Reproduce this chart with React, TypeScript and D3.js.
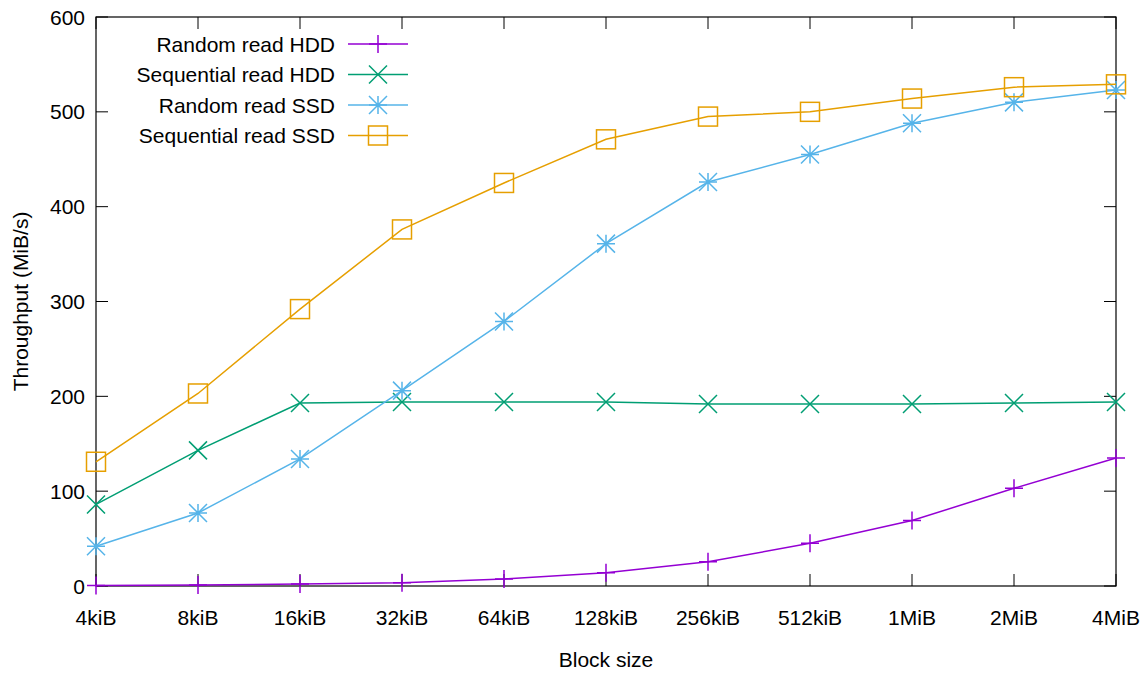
import * as d3 from "d3";

const blockSizes = ["4kiB", "8kiB", "16kiB", "32kiB", "64kiB", "128kiB", "256kiB", "512kiB", "1MiB", "2MiB", "4MiB"];
const yTicks = [0, 100, 200, 300, 400, 500, 600];

const randomHdd = [0.5, 1, 2, 3.5, 7.5, 14, 25.5, 45, 69, 103, 135];
const seqHdd = [86, 143, 193, 194, 194, 194, 192, 192, 192, 193, 194];
const randomSsd = [42, 77, 134, 206, 279, 361, 426, 455, 488, 510, 523];
const seqSsd = [131, 203, 292, 376, 425, 471, 495, 500, 514, 526, 529];

const seriesList = [
  { name: "Random read HDD", values: randomHdd, color: "#9400d3", marker: "plus" },
  { name: "Sequential read HDD", values: seqHdd, color: "#009e73", marker: "cross" },
  { name: "Random read SSD", values: randomSsd, color: "#56b4e9", marker: "star" },
  { name: "Sequential read SSD", values: seqSsd, color: "#e69f00", marker: "square" },
];

const W = 1147;
const H = 677;
const margin = { top: 17, right: 31, bottom: 91, left: 96 };
const font = "'Liberation Sans', Arial, sans-serif";
const fs = 21;

function Marker({ kind, x, y, color }: { kind: string; x: number; y: number; color: string }) {
  const s = 9;
  const sw = 1.5;
  if (kind === "plus") {
    return <path d={`M${x - s},${y}H${x + s}M${x},${y - s}V${y + s}`} stroke={color} strokeWidth={sw} fill="none" />;
  }
  if (kind === "cross") {
    return <path d={`M${x - s},${y - s}L${x + s},${y + s}M${x - s},${y + s}L${x + s},${y - s}`} stroke={color} strokeWidth={sw} fill="none" />;
  }
  if (kind === "star") {
    return (
      <path
        d={`M${x - s},${y}H${x + s}M${x},${y - s}V${y + s}M${x - s},${y - s}L${x + s},${y + s}M${x - s},${y + s}L${x + s},${y - s}`}
        stroke={color}
        strokeWidth={sw}
        fill="none"
      />
    );
  }
  return <rect x={x - 9.5} y={y - 9.5} width={19} height={19} stroke={color} strokeWidth={sw} fill="none" />;
}

export default function App() {
  const x = d3
    .scalePoint<string>()
    .domain(blockSizes)
    .range([margin.left, W - margin.right]);
  const y = d3
    .scaleLinear()
    .domain([0, 600])
    .range([H - margin.bottom, margin.top]);

  const line = d3
    .line<number>()
    .x((_, i) => x(blockSizes[i]) as number)
    .y((d) => y(d));

  const x0 = margin.left;
  const x1 = W - margin.right;
  const y0 = H - margin.bottom;
  const y1 = margin.top;
  const tick = 12;

  return (
    <svg width={W} height={H} style={{ position: "absolute", left: 0, top: 0, background: "#fff" }} fontFamily={font}>
      {/* ticks, mirrored on all four sides */}
      <g stroke="#000" strokeWidth={1}>
        {yTicks.map((t) => (
          <g key={"y" + t}>
            <line x1={x0} x2={x0 + tick} y1={y(t)} y2={y(t)} />
            <line x1={x1} x2={x1 - tick} y1={y(t)} y2={y(t)} />
          </g>
        ))}
        {blockSizes.map((b) => (
          <g key={"x" + b}>
            <line x1={x(b)} x2={x(b)} y1={y0} y2={y0 - tick} />
            <line x1={x(b)} x2={x(b)} y1={y1} y2={y1 + tick} />
          </g>
        ))}
      </g>
      <rect x={x0} y={y1} width={x1 - x0} height={y0 - y1} fill="none" stroke="#000" strokeWidth={1.2} />

      {yTicks.map((t) => (
        <text key={"yl" + t} x={x0 - 11} y={y(t)} dy="0.36em" textAnchor="end" fontSize={fs}>
          {t}
        </text>
      ))}
      {blockSizes.map((b) => (
        <text key={"xl" + b} x={x(b)} y={y0 + 39} textAnchor="middle" fontSize={fs}>
          {b}
        </text>
      ))}
      <text x={(x0 + x1) / 2} y={H - 10} textAnchor="middle" fontSize={fs}>
        Block size
      </text>
      <text transform={`translate(28,${(y0 + y1) / 2}) rotate(-90)`} textAnchor="middle" fontSize={fs}>
        Throughput (MiB/s)
      </text>

      {seriesList.map((s) => (
        <g key={s.name}>
          <path d={line(s.values) ?? ""} fill="none" stroke={s.color} strokeWidth={1.5} />
          {s.values.map((v, i) => (
            <Marker key={i} kind={s.marker} x={x(blockSizes[i]) as number} y={y(v)} color={s.color} />
          ))}
        </g>
      ))}

      {/* legend */}
      {seriesList.map((s, i) => {
        const ly = 44 + i * 30.5;
        return (
          <g key={"lg" + s.name}>
            <text x={335} y={ly} dy="0.36em" textAnchor="end" fontSize={fs}>
              {s.name}
            </text>
            <line x1={348} x2={408} y1={ly} y2={ly} stroke={s.color} strokeWidth={1.5} />
            <Marker kind={s.marker} x={378} y={ly} color={s.color} />
          </g>
        );
      })}
    </svg>
  );
}
